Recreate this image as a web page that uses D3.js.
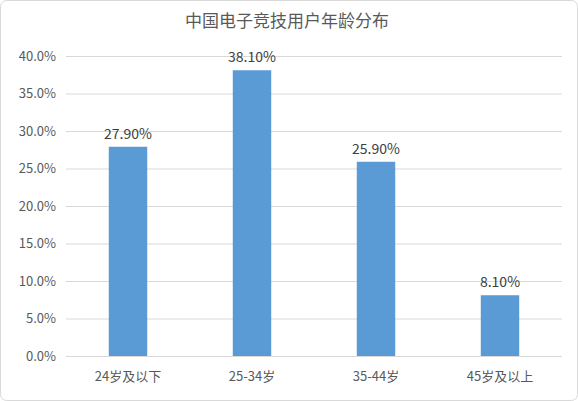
<!DOCTYPE html>
<html><head><meta charset="utf-8">
<script src="https://cdn.jsdelivr.net/npm/d3@7"></script>
<style>body{margin:0;background:#fff}svg{font-family:"Noto Sans CJK SC","Noto Sans",sans-serif}</style>
</head><body>
<svg width="578" height="401"></svg>
<script>
const categories = ['24岁及以下', '25-34岁', '35-44岁', '45岁及以上']
const values = [27.9, 38.1, 25.9, 8.1]
const ticks = [0, 5, 10, 15, 20, 25, 30, 35, 40]

const svg = d3.select('svg')
svg.append('rect').attr('x', 0.5).attr('y', 0.5).attr('width', 577).attr('height', 400)
	.attr('rx', 6).attr('fill', '#fff').attr('stroke', '#d9d9d9')

const x = d3.scaleBand().domain(categories).range([66, 562]).paddingInner(0.69).paddingOuter(0.345)
const y = d3.scaleLinear().domain([0, 40]).range([356, 56])

// Grid
svg.append('g').selectAll('line').data(ticks).join('line')
	.attr('x1', 66).attr('x2', 562)
	.attr('y1', d => y(d) + 0.5).attr('y2', d => y(d) + 0.5)
	.attr('stroke', '#d9d9d9')

// Y labels
svg.append('g').selectAll('text').data(ticks).join('text')
	.attr('x', 56).attr('y', d => y(d)).attr('dy', '0.35em')
	.attr('text-anchor', 'end').attr('font-size', 13).attr('fill', '#595959')
	.text(d => d.toFixed(1) + '%')

// Bars
svg.append('g').selectAll('rect').data(values).join('rect')
	.attr('x', (d, i) => x(categories[i])).attr('width', x.bandwidth())
	.attr('y', d => y(d)).attr('height', d => y(0) - y(d))
	.attr('fill', '#5b9bd5')

// Value labels
svg.append('g').selectAll('text').data(values).join('text')
	.attr('x', (d, i) => x(categories[i]) + x.bandwidth() / 2).attr('y', d => y(d) - 8)
	.attr('text-anchor', 'middle').attr('font-size', 14).attr('fill', '#404040')
	.text(d => d.toFixed(2) + '%')

// X labels
svg.append('g').selectAll('text').data(categories).join('text')
	.attr('x', d => x(d) + x.bandwidth() / 2).attr('y', 381)
	.attr('text-anchor', 'middle').attr('font-size', 13).attr('fill', '#595959')
	.text(d => d)

svg.append('text').attr('x', 287).attr('y', 27).attr('text-anchor', 'middle')
	.attr('font-size', 17).attr('fill', '#595959').text('中国电子竞技用户年龄分布')
</script>
</body></html>
